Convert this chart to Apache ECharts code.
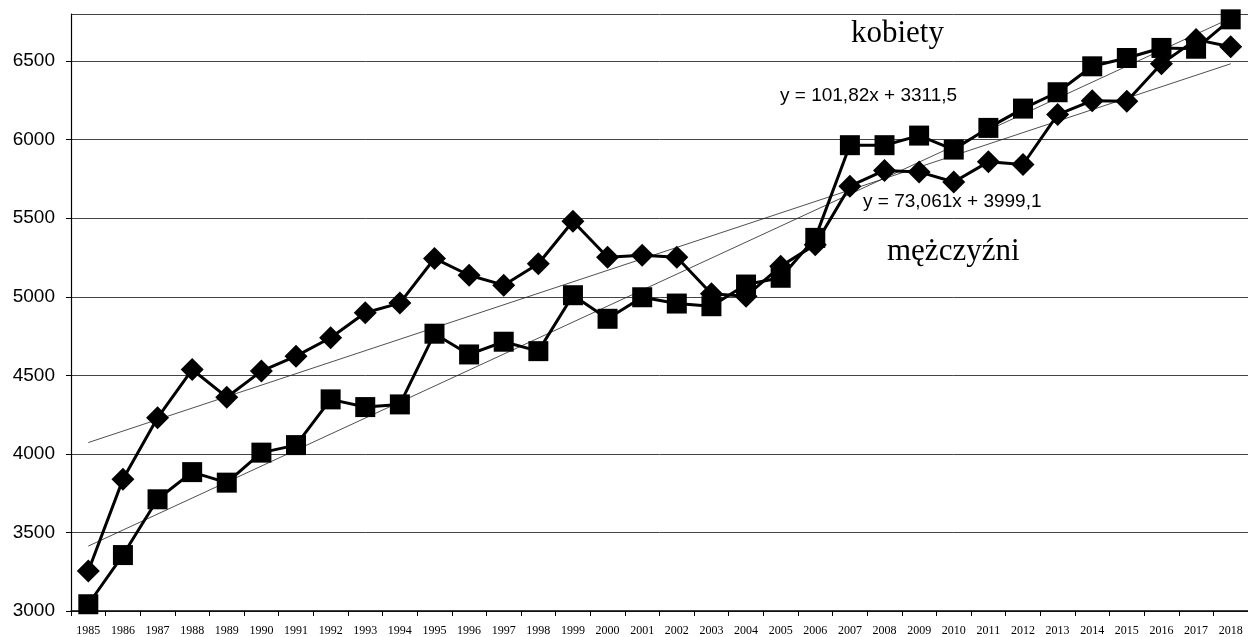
<!DOCTYPE html>
<html>
<head>
<meta charset="utf-8">
<script src="https://cdn.jsdelivr.net/npm/echarts@6/dist/echarts.min.js"></script>
<style>
html, body { margin: 0; padding: 0; background: #fff; }
#chart { width: 1248px; height: 637px; }
</style>
</head>
<body>
<div id="chart"></div>
<script>
// lata
var years = ['1985','1986','1987','1988','1989','1990','1991','1992','1993','1994',
  '1995','1996','1997','1998','1999','2000','2001','2002','2003','2004',
  '2005','2006','2007','2008','2009','2010','2011','2012','2013','2014',
  '2015','2016','2017','2018'];

// kobiety (kwadraty)
var kobiety = [3043, 3356, 3711, 3884, 3817, 4008, 4056, 4347, 4298, 4315,
  4765, 4633, 4714, 4654, 5010, 4860, 4997, 4957, 4940, 5078,
  5121, 5375, 5965, 5965, 6026, 5937, 6075, 6198, 6302, 6467,
  6520, 6584, 6579, 6766];

// mężczyźni (romby)
var mezczyzni = [3254, 3838, 4230, 4537, 4361, 4527, 4622, 4739, 4898, 4960,
  5244, 5137, 5074, 5210, 5481, 5252, 5265, 5252, 5019, 5004,
  5194, 5332, 5704, 5804, 5795, 5731, 5859, 5842, 6160, 6248,
  6244, 6484, 6637, 6591];

// końce linii trendu (1985 i 2018)
var trendKobiety = [3413.3, 6773.4];
var trendMezczyzni = [4072.2, 6483.2];

var yTicks = { min: 3000, max: 6800, interval: 500 };

var myChart = echarts.init(document.getElementById('chart'));

function trendSeries(ends) {
  return {
    type: 'line',
    data: [[years[0], ends[0]], [years[years.length - 1], ends[1]]],
    symbol: 'none',
    silent: true,
    z: 1,
    lineStyle: { color: '#222', width: 0.8 }
  };
}

myChart.setOption({
  animation: false,
  grid: { left: 71, right: 0, top: 14, bottom: 26 },
  xAxis: {
    type: 'category',
    data: years,
    boundaryGap: true,
    axisLine: { lineStyle: { color: '#000', width: 1.5 } },
    axisTick: { show: true, length: 5, lineStyle: { color: '#000' } },
    axisLabel: {
      color: '#000',
      fontFamily: 'Liberation Serif',
      fontSize: 12,
      margin: 14,
      interval: 0
    },
    splitLine: { show: false }
  },
  yAxis: {
    type: 'value',
    min: yTicks.min,
    max: yTicks.max,
    interval: yTicks.interval,
    axisLine: { show: true, lineStyle: { color: '#000', width: 1.2 } },
    axisTick: { show: true, length: 5, lineStyle: { color: '#000' } },
    axisLabel: {
      color: '#000',
      fontFamily: 'Liberation Sans',
      fontSize: 19,
      margin: 16,
      showMaxLabel: false,
      formatter: function (v) { return String(v); }
    },
    splitLine: { show: true, lineStyle: { color: '#444', width: 1 } }
  },
  series: [
    trendSeries(trendKobiety),
    trendSeries(trendMezczyzni),
    {
      name: 'kobiety',
      type: 'line',
      data: kobiety,
      symbol: 'rect',
      symbolSize: 20,
      z: 3,
      lineStyle: { color: '#000', width: 3 },
      itemStyle: { color: '#000' }
    },
    {
      name: 'mężczyźni',
      type: 'line',
      data: mezczyzni,
      symbol: 'diamond',
      symbolSize: [23, 23],
      z: 4,
      lineStyle: { color: '#000', width: 3 },
      itemStyle: { color: '#000' }
    }
  ],
  graphic: [
    {
      type: 'text', left: 851, top: 18,
      style: { text: 'kobiety', fill: '#000', font: '31px "Liberation Serif"' }
    },
    {
      type: 'text', left: 887, top: 236,
      style: { text: 'mężczyźni', fill: '#000', font: '31px "Liberation Serif"' }
    },
    {
      type: 'text', left: 780, top: 86,
      style: { text: 'y = 101,82x + 3311,5', fill: '#000', font: '19px "Liberation Sans"' }
    },
    {
      type: 'text', left: 863, top: 192,
      style: { text: 'y = 73,061x + 3999,1', fill: '#000', font: '19px "Liberation Sans"' }
    }
  ]
});
</script>
</body>
</html>
